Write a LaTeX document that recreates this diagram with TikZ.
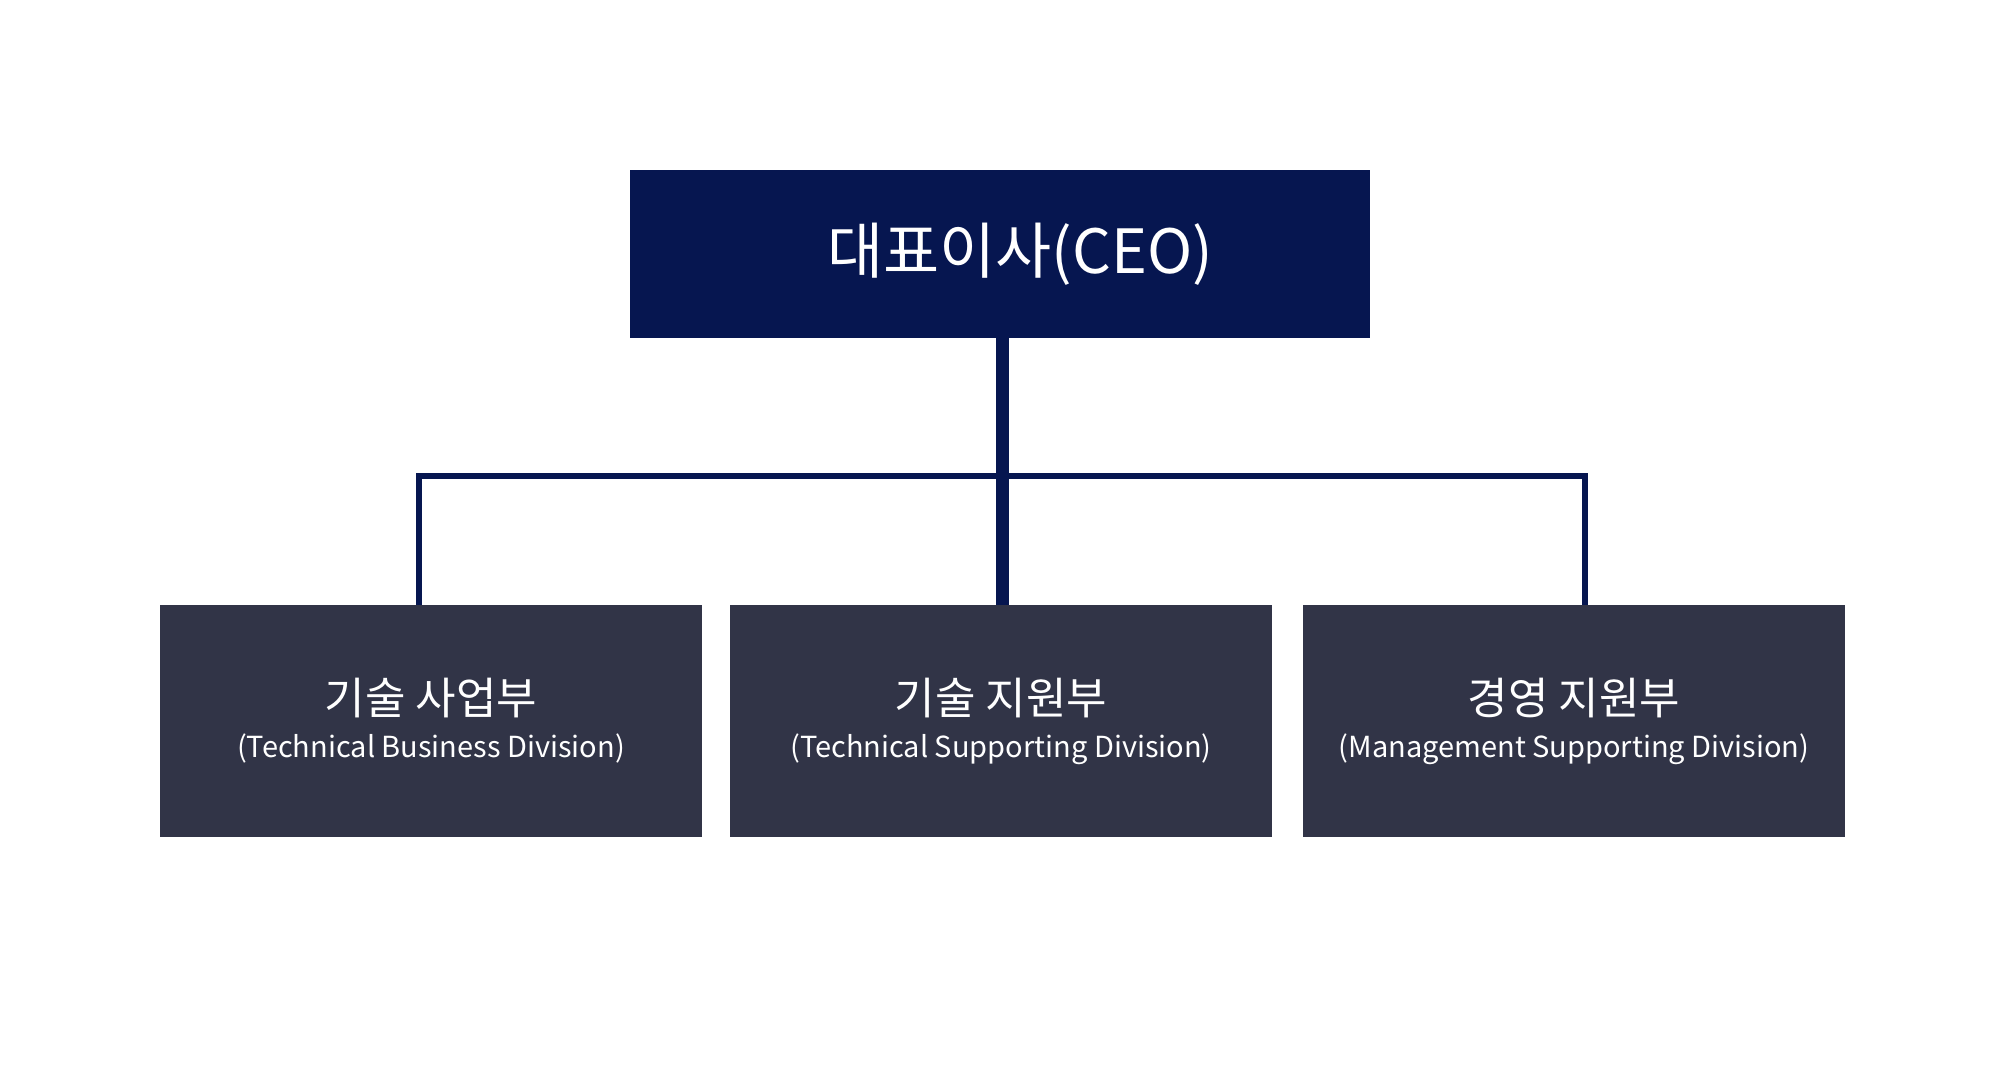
\documentclass[tikz,border=0pt]{standalone}
\usepackage{fontspec}
\setmainfont{Noto Sans CJK KR}
\usepackage{tikz}
\usepackage{xcolor}
\usetikzlibrary{positioning, calc}

\definecolor{ceonavy}{HTML}{061650}
\definecolor{divgray}{HTML}{313447}

\tikzset{
    ceobox/.style={fill=ceonavy, text=white, minimum width=370pt, minimum height=84pt, inner sep=0pt, font=\fontsize{30.5}{34}\selectfont},
    divbox/.style={fill=divgray, text=white, minimum width=271pt, minimum height=116pt, inner sep=0pt, align=center, font=\fontsize{14.5}{21.5}\selectfont},
    bus/.style={draw=ceonavy, line width=3.2pt},
    trunk/.style={draw=ceonavy, line width=6.5pt}
}
\newcommand{\divtitle}[1]{{\fontsize{22}{21.5}\selectfont #1}}

\begin{document}
\begin{tikzpicture}[x=0.5pt, y=-0.5pt]
    \useasboundingbox (0,0) rectangle (2000,1070);
    % CEO on top
    \node[ceobox] (ceo) at (1000,254) {\hspace*{20pt}대표이사(CEO)};
    % Divisions
    \node[divbox] (tbd) at (431,721) {\divtitle{기술 사업부}\\(Technical Business Division)};
    \node[divbox] (tsd) at (1001,721) {\divtitle{기술 지원부}\\(Technical Supporting Division)};
    \node[divbox] (msd) at (1574,721) {\divtitle{경영 지원부}\\(Management Supporting Division)};
    % Connectors
    \coordinate (split) at (1001,476);
    \draw[bus] ([xshift=-6pt]tbd.north) |- (split) -| ([xshift=5.5pt]msd.north);
    \draw[trunk] ([xshift=1pt]ceo.south) -- ([xshift=0.5pt]tsd.north);
\end{tikzpicture}
\end{document}
